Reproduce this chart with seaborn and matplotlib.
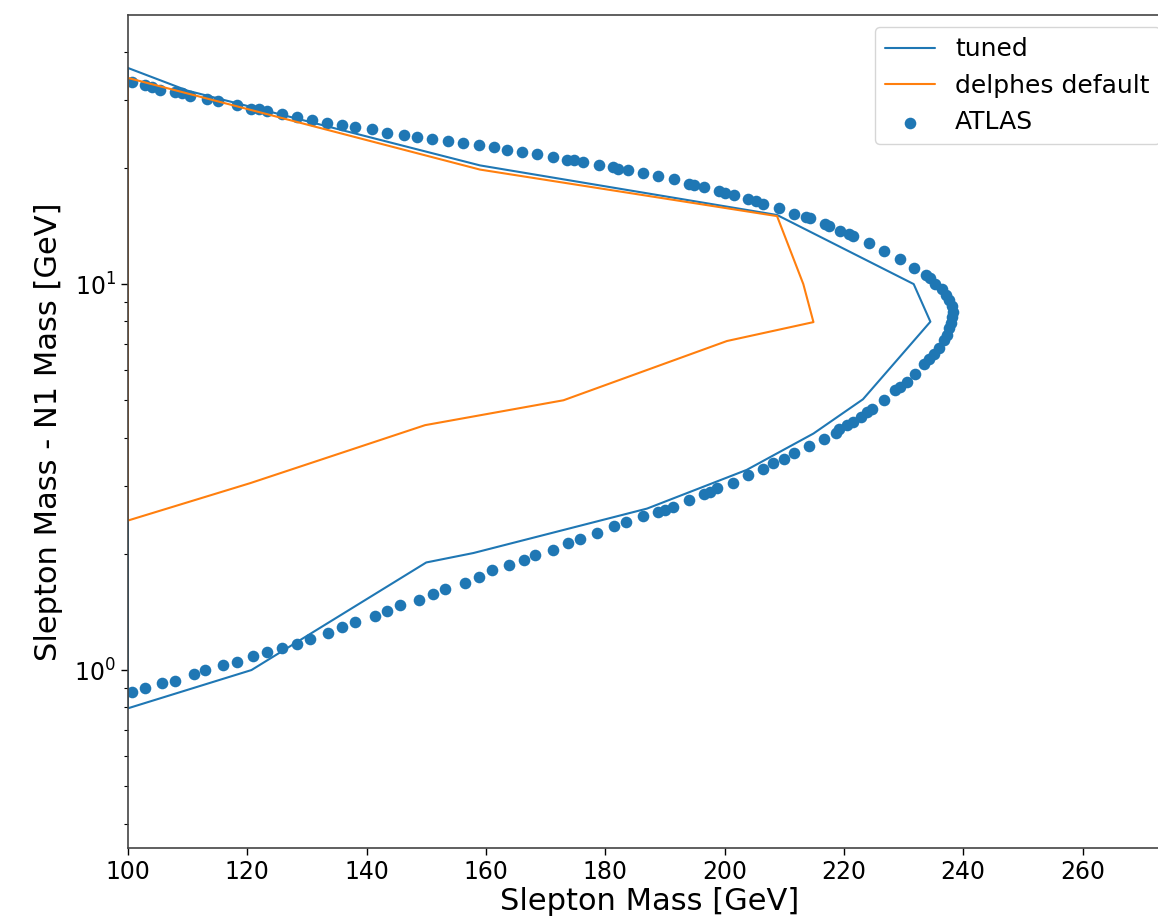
"""
Slepton exclusion contour: tuned vs delphes default vs ATLAS
"""

import numpy as np
import pandas as pd
import matplotlib
matplotlib.use("Agg")
import matplotlib.pyplot as plt
import seaborn as sns

# tuned delphes card contour (closed along x = 100)
tuned_x = [100, 120.7, 150.0, 157.9, 187.0, 203.7, 214.9, 223.2, 234.5, 231.7, 208.8, 159.0, 110.0, 100, 100]
tuned_y = [0.796, 1.00, 1.90, 2.01, 2.62, 3.30, 4.10, 5.03, 7.99, 10.0, 15.1, 20.3, 31.7, 36.3, 0.796]

# default delphes card contour
default_x = [100, 120.5, 149.8, 173.0, 200.4, 214.9, 213.2, 208.8, 159.0, 100, 100]
default_y = [2.44, 3.05, 4.31, 5.00, 7.12, 7.97, 10.0, 15.0, 19.8, 34.2, 2.44]

# ATLAS observed points
atlas_x = [100.6, 102.9, 104.0, 105.4, 107.9, 109.0, 110.4, 113.2, 115.1, 118.2,
           120.7, 121.9, 123.3, 125.8, 128.3, 130.8, 133.3, 135.8, 138.1, 140.9,
           143.4, 146.2, 148.4, 150.9, 153.7, 156.2, 158.8, 161.3, 163.6, 166.0,
           168.6, 171.2, 173.6, 174.7, 176.3, 178.9, 181.3, 182.2, 183.8, 186.3,
           188.8, 191.5, 194.0, 194.8, 196.5, 199.0, 200.1, 201.5, 204.0, 205.2,
           206.5, 209.2, 211.6, 213.7, 214.3, 216.9, 217.5, 219.3, 220.8, 221.6,
           224.2, 226.7, 229.4, 231.7, 233.7, 234.5, 235.3, 236.5, 237.2, 237.7,
           238.1, 238.3, 238.2, 238.0, 237.7, 237.3, 236.7, 235.9, 235.1, 234.2,
           233.5, 232.0, 230.6, 229.4, 228.6, 226.7, 224.7, 223.9, 222.8, 221.6,
           220.5, 219.1, 218.6, 216.6, 214.1, 211.6, 209.9, 208.2, 206.5, 204.0,
           201.4, 198.8, 197.6, 196.5, 194.0, 191.4, 190.1, 188.9, 186.4, 183.4,
           181.4, 178.7, 175.8, 173.8, 171.2, 168.3, 166.3, 163.9, 161.0, 158.8,
           156.5, 153.2, 151.2, 148.7, 145.6, 143.4, 141.4, 138.1, 135.8, 133.6,
           130.5, 128.3, 125.8, 123.3, 120.9, 118.2, 116.0, 112.9, 111.0, 107.9,
           105.7, 102.9, 100.6]
atlas_y = [33.4, 32.8, 32.4, 31.9, 31.5, 31.2, 30.7, 30.1, 29.8, 29.1,
           28.5, 28.4, 28.1, 27.6, 27.1, 26.6, 26.2, 25.8, 25.5, 25.2,
           24.7, 24.3, 24.1, 23.8, 23.5, 23.2, 22.9, 22.7, 22.3, 22.0,
           21.7, 21.4, 21.0, 21.0, 20.7, 20.4, 20.1, 19.9, 19.7, 19.4,
           19.1, 18.7, 18.2, 18.1, 17.8, 17.4, 17.2, 17.0, 16.6, 16.4,
           16.1, 15.7, 15.2, 14.9, 14.8, 14.3, 14.1, 13.7, 13.5, 13.3,
           12.8, 12.2, 11.6, 11.0, 10.55, 10.35, 10.0, 9.69, 9.37, 9.09,
           8.77, 8.48, 8.23, 7.94, 7.68, 7.38, 7.16, 6.81, 6.59, 6.38,
           6.19, 5.84, 5.58, 5.42, 5.31, 5.01, 4.76, 4.67, 4.53, 4.40,
           4.31, 4.20, 4.12, 3.98, 3.80, 3.64, 3.53, 3.43, 3.32, 3.20,
           3.06, 2.96, 2.90, 2.86, 2.76, 2.65, 2.60, 2.56, 2.50, 2.42,
           2.36, 2.27, 2.19, 2.13, 2.05, 1.99, 1.93, 1.87, 1.82, 1.74,
           1.68, 1.62, 1.57, 1.52, 1.47, 1.42, 1.38, 1.33, 1.29, 1.25,
           1.20, 1.17, 1.14, 1.115, 1.09, 1.05, 1.03, 1.00, 0.976, 0.938,
           0.924, 0.897, 0.879]

sns.set_style("ticks")
plt.rcParams['font.family'] = ['DejaVu Sans']
plt.rcParams['text.color'] = 'black'
plt.rcParams['axes.labelcolor'] = 'black'
plt.rcParams['xtick.color'] = 'black'
plt.rcParams['ytick.color'] = 'black'
plt.rcParams['axes.edgecolor'] = '#444444'

fig = plt.figure(figsize=(11.58, 9.24), dpi=100)
# axes runs a little past the right edge, like the cropped original
ax = fig.add_axes([0.1105, 0.0823, 0.9016, 0.9015])

tuned = pd.DataFrame({"x": tuned_x, "y": tuned_y})
default = pd.DataFrame({"x": default_x, "y": default_y})
atlas = pd.DataFrame({"x": atlas_x, "y": atlas_y})

sns.lineplot(data=tuned, x="x", y="y", sort=False, estimator=None,
             color="#1f77b4", linewidth=1.5, label="tuned", ax=ax)
sns.lineplot(data=default, x="x", y="y", sort=False, estimator=None,
             color="#ff7f0e", linewidth=1.5, label="delphes default", ax=ax)
sns.scatterplot(data=atlas, x="x", y="y", color="#1f77b4", s=70,
                linewidth=0, label="ATLAS", ax=ax)

ax.set_yscale("log")
ax.set_xlim(100, 275)
ax.set_ylim(0.346, 49.8)
ax.set_xticks(np.arange(100, 261, 20))

ax.set_xlabel("Slepton Mass [GeV]", fontsize=22, labelpad=2)
ax.set_ylabel("Slepton Mass - N1 Mass [GeV]", fontsize=22, labelpad=8)
ax.tick_params(axis="both", which="major", labelsize=17, length=5, width=1)
ax.tick_params(axis="y", which="minor", length=3, width=0.8)

for side in ["top", "right", "left", "bottom"]:
    ax.spines[side].set_visible(True)
    ax.spines[side].set_linewidth(1.2)

leg = ax.legend(loc="upper right", fontsize=18, frameon=True, markerscale=1.0)
leg.get_frame().set_edgecolor("#cccccc")

fig.savefig("out.png", dpi=100)
